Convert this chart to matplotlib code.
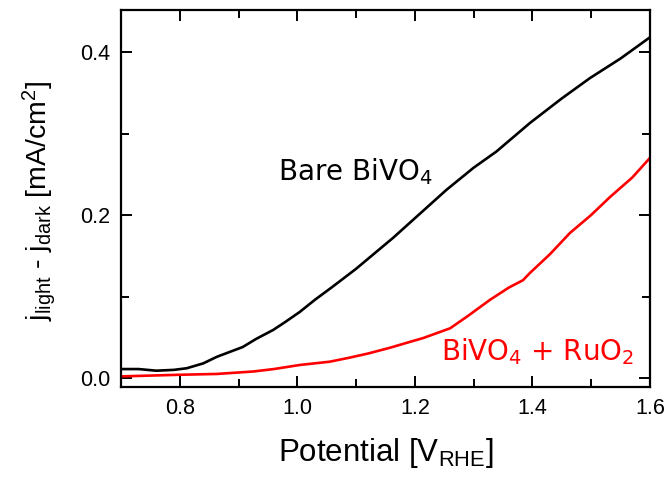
import matplotlib
matplotlib.use("Agg")
import matplotlib.pyplot as plt
from matplotlib.ticker import MultipleLocator

# ── Data ──────────────────────────────────────────────────────────────────────
bare_v = [0.70, 0.73, 0.76, 0.79, 0.812, 0.84, 0.863, 0.885, 0.907, 0.93, 0.959,
          0.98, 1.004, 1.03, 1.06, 1.10, 1.163, 1.20, 1.254, 1.30, 1.339, 1.396,
          1.45, 1.498, 1.55, 1.60]
bare_j = [0.011, 0.011, 0.009, 0.010, 0.012, 0.018, 0.026, 0.032, 0.038, 0.048, 0.059,
          0.069, 0.081, 0.096, 0.112, 0.134, 0.172, 0.196, 0.231, 0.258, 0.278, 0.313,
          0.343, 0.368, 0.392, 0.418]

ru_v = [0.70, 0.75, 0.80, 0.863, 0.925, 0.96, 1.004, 1.055, 1.089, 1.12, 1.157,
        1.19, 1.214, 1.26, 1.29, 1.328, 1.36, 1.384, 1.396, 1.43, 1.464, 1.50,
        1.532, 1.57, 1.60]
ru_j = [0.002, 0.003, 0.004, 0.005, 0.008, 0.011, 0.016, 0.020, 0.025, 0.030, 0.037,
        0.044, 0.049, 0.061, 0.076, 0.096, 0.111, 0.120, 0.129, 0.152, 0.178, 0.200,
        0.222, 0.246, 0.270]

plt.rcParams.update({
    "font.family": ["Liberation Sans", "DejaVu Sans"],
    "mathtext.fontset": "custom",
    "mathtext.rm": "Liberation Sans",
    "mathtext.it": "Liberation Sans",
    "mathtext.default": "regular",
})

fig = plt.figure(figsize=(6.7, 4.78), dpi=100)
ax = fig.add_axes([0.1806, 0.1904, 0.7894, 0.7886])

ax.plot(bare_v, bare_j, color="black", linewidth=1.9)
ax.plot(ru_v, ru_j, color="#ff0000", linewidth=1.9)

ax.set_xlim(0.7, 1.6)
ax.set_ylim(-0.011, 0.4515)
ax.xaxis.set_major_locator(MultipleLocator(0.2))
ax.xaxis.set_minor_locator(MultipleLocator(0.1))
ax.yaxis.set_major_locator(MultipleLocator(0.2))
ax.yaxis.set_minor_locator(MultipleLocator(0.1))
ax.tick_params(which="both", direction="in", top=True, right=True,
               width=1.4, labelsize=15.5, pad=8)
ax.tick_params(which="major", length=8)
ax.tick_params(which="minor", length=6)
for s in ax.spines.values():
    s.set_linewidth(1.6)

ax.set_xlabel("Potential [V$_{RHE}$]", fontsize=22.5, labelpad=12)
ax.set_ylabel("j$_{light}$ - j$_{dark}$ [mA/cm$^2$]", fontsize=20.5)
ax.yaxis.set_label_coords(-0.12, 0.495)

# DejaVu stands in for the Tahoma-like annotation font
ax.text(0.967, 0.243, "Bare BiVO$_4$", fontsize=20, color="black",
        family=["DejaVu Sans"], ha="left", va="baseline",
        math_fontfamily="dejavusans")
ax.text(1.574, 0.022, "BiVO$_4$ + RuO$_2$", fontsize=20, color="#ff0000",
        family=["DejaVu Sans"], ha="right", va="baseline",
        math_fontfamily="dejavusans")

fig.savefig("out.png", dpi=100)
